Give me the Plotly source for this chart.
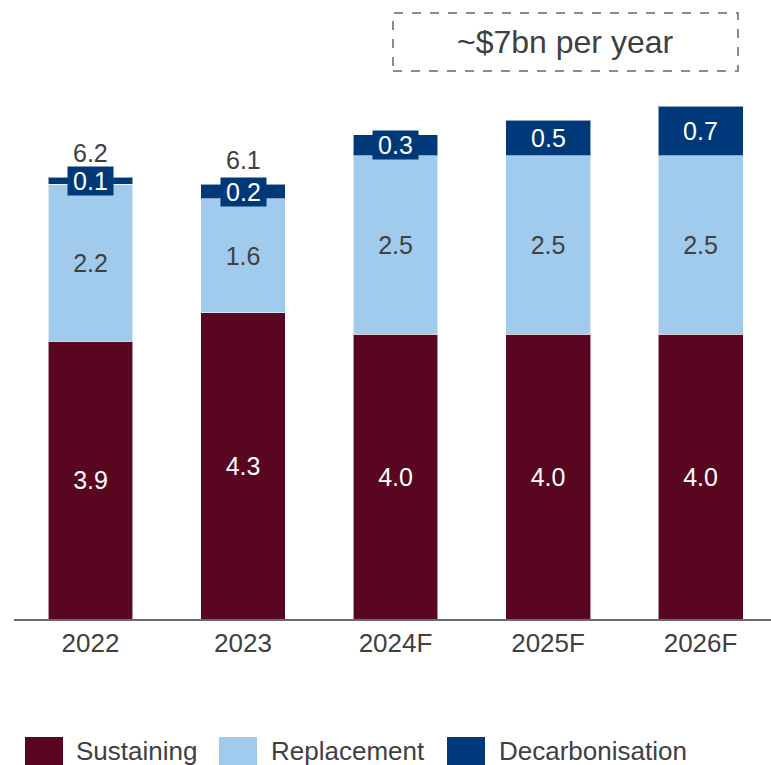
import plotly.graph_objects as go

categories = ["2022", "2023", "2024F", "2025F", "2026F"]
sustaining = [3.9, 4.3, 4.0, 4.0, 4.0]
replacement = [2.2, 1.6, 2.5, 2.5, 2.5]
decarbonisation = [0.1, 0.2, 0.3, 0.5, 0.7]
show_total = [True, True, False, False, False]
series_names = ["Sustaining", "Replacement", "Decarbonisation"]
colors = ["#590720", "#A1CBED", "#00397A"]
callout_text = "~$7bn per year"

FONT = "Liberation Sans, Arial, sans-serif"
TXT = "#404040"
W, H = 771, 765
ML, MR, MT, MB = 14, 0, 0, 146
PW, PH = W - ML - MR, H - MT - MB

def px_x(p):
    return (p - ML) / PW

def px_y(p):
    return (MT + PH - p) / PH

fig = go.Figure()
series = [sustaining, replacement, decarbonisation]
text_colors = ["white", TXT, "white"]
for i, (name, vals) in enumerate(zip(series_names, series)):
    fig.add_trace(go.Bar(
        x=categories, y=vals, name=name,
        marker=dict(color=colors[i], line=dict(color="rgba(255,255,255,0.55)", width=1)),
        width=0.557,
        text=[f"{v:.1f}" for v in vals] if i < 2 else None,
        texttemplate="%{text}" if i < 2 else None,
        textposition="inside" if i < 2 else "none",
        insidetextanchor="middle",
        textfont=dict(family=FONT, size=25, color=text_colors[i]),
        constraintext="none",
        showlegend=False,
        hoverinfo="skip",
    ))

annotations = []
# Decarbonisation labels with dark background box (x given as category index)
for idx, (s, r, d) in enumerate(zip(sustaining, replacement, decarbonisation)):
    annotations.append(dict(
        x=idx, y=s + r + d / 2, xref="x", yref="y",
        text=f"{d:.1f}", showarrow=False,
        font=dict(family=FONT, size=25, color="white"),
        bgcolor=colors[2], borderpad=1, width=43, height=26,
        align="center", valign="middle",
        xanchor="center", yanchor="middle",
    ))
# Totals
for idx, (s, r, d, show) in enumerate(zip(sustaining, replacement, decarbonisation, show_total)):
    if show:
        annotations.append(dict(
            x=idx, y=s + r + d, xref="x", yref="y",
            text=f"{s + r + d:.1f}", showarrow=False,
            font=dict(family=FONT, size=25, color=TXT),
            xanchor="center", yanchor="bottom", yshift=8,
        ))
# Callout
annotations.append(dict(
    x=px_x(565.5), y=px_y(42), xref="paper", yref="paper",
    text=callout_text, showarrow=False,
    font=dict(family=FONT, size=32, color=TXT),
    xanchor="center", yanchor="middle",
))

shapes = [dict(
    type="rect", xref="paper", yref="paper",
    x0=px_x(393), x1=px_x(738), y0=px_y(71), y1=px_y(13),
    line=dict(color="#8c8c8c", width=2, dash="dash"),
    fillcolor="rgba(0,0,0,0)",
)]

# Manual legend
sw_x = [25, 219, 447]
tx_x = [74, 269, 497]
for i, name in enumerate(series_names):
    shapes.append(dict(
        type="rect", xref="paper", yref="paper",
        x0=px_x(sw_x[i]), x1=px_x(sw_x[i] + 38), y0=px_y(775), y1=px_y(737),
        line=dict(width=0), fillcolor=colors[i],
    ))
    annotations.append(dict(
        x=px_x(tx_x[i]), y=px_y(751), xref="paper", yref="paper",
        text=name, showarrow=False,
        font=dict(family=FONT, size=26, color=TXT),
        xanchor="left", yanchor="middle",
    ))

fig.update_layout(
    barmode="stack",
    width=W, height=H,
    margin=dict(l=ML, r=MR, t=MT, b=MB, pad=0),
    paper_bgcolor="white", plot_bgcolor="white",
    annotations=annotations, shapes=shapes,
    showlegend=False,
    hovermode=False,
    font=dict(family=FONT, color=TXT),
    xaxis=dict(
        type="category", range=[-0.5016, 4.462],
        showline=True, linecolor="#6b6b6b", linewidth=1.5,
        showgrid=False, zeroline=False, ticks="",
        tickfont=dict(family=FONT, size=26, color=TXT),
    ),
    yaxis=dict(
        range=[0, PH / 71.25], visible=False, showgrid=False, zeroline=False,
    ),
)

fig.write_html(
    "out.html",
    config={"displayModeBar": False},
    post_script="document.body.style.margin='0';",
)
